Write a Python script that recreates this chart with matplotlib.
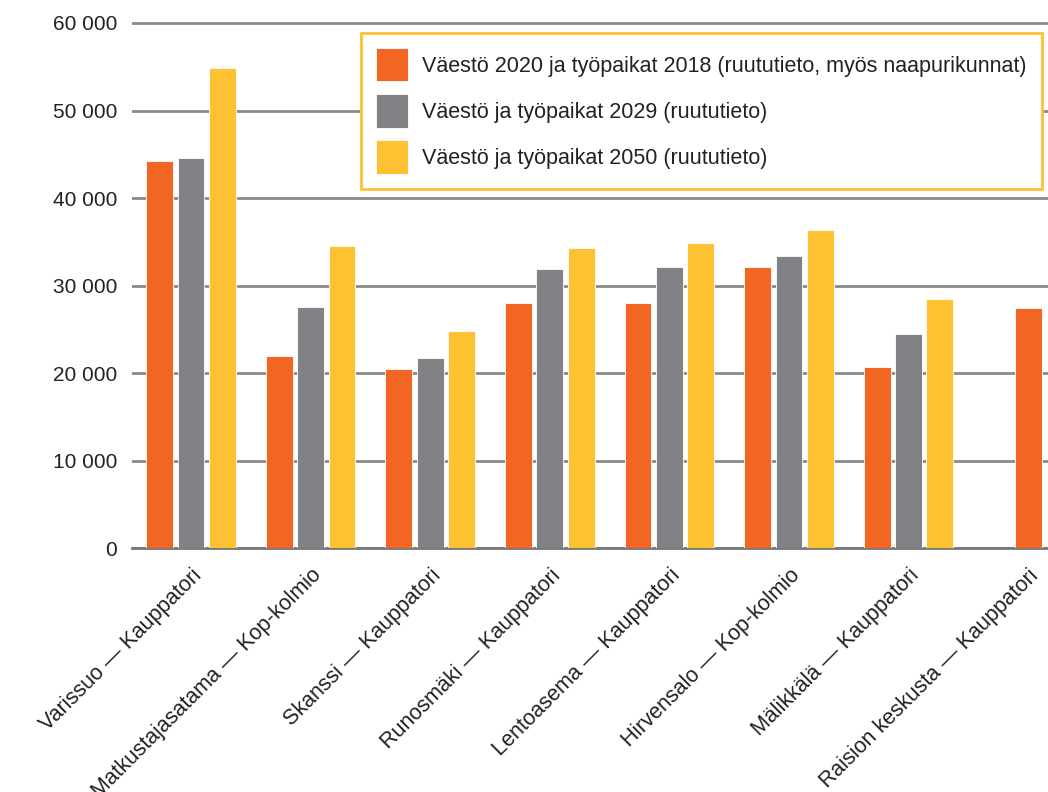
import numpy as np
import matplotlib
matplotlib.use("Agg")
import matplotlib.pyplot as plt
from matplotlib.ticker import FuncFormatter
import matplotlib.transforms as mtransforms

plt.rcParams['font.family'] = ['Liberation Sans', 'DejaVu Sans']

routes = ["Varissuo — Kauppatori", "Matkustajasatama — Kop-kolmio",
          "Skanssi — Kauppatori", "Runosmäki — Kauppatori",
          "Lentoasema — Kauppatori", "Hirvensalo — Kop-kolmio",
          "Mälikkälä — Kauppatori", "Raision keskusta — Kauppatori"]
labels = ["Väestö 2020 ja työpaikat 2018 (ruututieto, myös naapurikunnat)",
          "Väestö ja työpaikat 2029 (ruututieto)",
          "Väestö ja työpaikat 2050 (ruututieto)"]
v2020 = [44230, 21940, 20460, 28030, 28020, 32120, 20690, 27450]
v2029 = [44570, 27530, 21760, 31860, 32120, 33380, 24490, np.nan]
v2050 = [54900, 34480, 24790, 34290, 34860, 36340, 28440, np.nan]
colors = ["#F26522", "#808285", "#FDC132"]

fig = plt.figure(figsize=(10.48, 7.92), dpi=100)
ax = fig.add_axes([0.126, 0.308, 0.874, 0.6685])

x = np.arange(len(routes))
w = 0.225
step = 0.2625
single = np.isnan(np.array(v2029, dtype=float))
for i, (vals, c, lab) in enumerate(zip([v2020, v2029, v2050], colors, labels)):
    vals = np.array(vals, dtype=float)
    pos = x + (i - 1) * step
    # only one value for the last route -> centre it
    if i == 0:
        pos = np.where(single, x, pos)
    ax.bar(pos, vals, w, color=c, label=lab, edgecolor="white", linewidth=0.6, zorder=3)

ax.set_ylim(0, 60500)
ax.set_xlim(-0.493, 7.166)
ax.set_yticks(np.arange(0, 60001, 10000))
ax.yaxis.set_major_formatter(FuncFormatter(lambda v, p: f"{int(v):,}".replace(",", " ")))
ax.grid(axis="y", color="#8a8a8a", linewidth=2, zorder=0)
ax.tick_params(axis="y", length=0, labelsize=15, pad=10.8, labelcolor="#222222")
ax.tick_params(axis="x", length=0, labelsize=15.5, labelcolor="#222222")
for s in ["top", "right", "left"]:
    ax.spines[s].set_visible(False)
ax.spines["bottom"].set_color("#777777")
ax.spines["bottom"].set_linewidth(2)

ax.set_xticks(x)
ax.set_xticklabels(routes, rotation=45, ha="right", rotation_mode="anchor")
offset = mtransforms.ScaledTranslation(0.0, -0.12, fig.dpi_scale_trans)
for t in ax.get_xticklabels():
    t.set_transform(t.get_transform() + offset)

leg = ax.legend(loc="upper right", bbox_to_anchor=(1042 / 1048, 1 - 33 / 792),
                bbox_transform=fig.transFigure, borderaxespad=0, fontsize=15.5,
                frameon=True, fancybox=False, handlelength=1.5, handleheight=2.0,
                handletextpad=0.65, labelspacing=0.6, borderpad=0.7)
leg.get_frame().set_edgecolor("#FDC132")
leg.get_frame().set_linewidth(2)
leg.get_frame().set_alpha(1)
for t in leg.get_texts():
    t.set_color("#222222")

fig.savefig("out.png", dpi=100)
